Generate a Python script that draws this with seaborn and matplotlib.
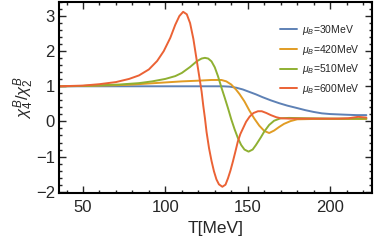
import matplotlib
matplotlib.use("Agg")
import matplotlib.pyplot as plt
import numpy as np
import pandas as pd
import seaborn as sns
from matplotlib.ticker import MultipleLocator

# ── Data ──────────────────────────────────────────────────────────────────────
labels = [r"$\mu_B$=30MeV", r"$\mu_B$=420MeV", r"$\mu_B$=510MeV", r"$\mu_B$=600MeV"]
colors = ["#5E81B5", "#E19C24", "#8FB032", "#EB6235"]

T_30 = [35.5, 60, 80, 100, 120, 135, 139, 143, 147, 151, 155, 159, 164, 169,
        174, 180, 185, 190, 195, 200, 205, 210, 216, 222]
r_30 = [1.0, 1.0, 1.0, 1.0, 1.0, 1.0, 0.99, 0.96, 0.91, 0.84, 0.77, 0.69, 0.60,
        0.52, 0.45, 0.38, 0.32, 0.27, 0.23, 0.21, 0.20, 0.19, 0.18, 0.18]

T_420 = [35.5, 50, 60, 70, 80, 90, 100, 110, 120, 128, 134, 137, 140, 143, 145,
         148, 151, 154, 157, 160, 163, 166, 169, 172, 176, 180, 190, 200, 210, 222]
r_420 = [1.0, 1.01, 1.02, 1.03, 1.05, 1.08, 1.11, 1.14, 1.16, 1.18, 1.18, 1.14,
         1.05, 0.90, 0.78, 0.57, 0.31, 0.08, -0.12, -0.27, -0.33, -0.26, -0.16,
         -0.07, 0.01, 0.06, 0.07, 0.07, 0.07, 0.07]

T_510 = [35.5, 50, 60, 72, 84, 92, 100, 106, 110, 115, 119, 122, 124, 126, 128,
         130, 132, 134, 136, 138, 140, 142, 144, 146, 148, 150.5, 153, 155,
         158, 160, 163, 166, 170, 175, 185, 200, 210, 222]
r_510 = [1.0, 1.01, 1.03, 1.05, 1.09, 1.14, 1.21, 1.29, 1.38, 1.55, 1.71, 1.79,
         1.81, 1.79, 1.71, 1.54, 1.28, 0.97, 0.68, 0.38, 0.06, -0.22, -0.47,
         -0.67, -0.80, -0.86, -0.80, -0.67, -0.45, -0.29, -0.10, 0.02, 0.09,
         0.10, 0.09, 0.08, 0.08, 0.08]

T_600 = [35.5, 50, 60, 70, 78, 84, 90, 95, 99, 103, 106, 108.5, 110.8, 113,
         115, 117, 119, 120.5, 122, 123, 124, 125, 126.5, 128, 129.5, 131,
         132.5, 134.6, 136.5, 138, 139.5, 141, 142.5, 144, 145.5, 147.2, 149,
         151.2, 153.5, 156.2, 158.5, 161.3, 164, 167.3, 170, 175, 190, 205,
         211, 214, 217, 222]
r_600 = [1.0, 1.02, 1.06, 1.12, 1.21, 1.31, 1.48, 1.72, 2.0, 2.38, 2.75, 3.0,
         3.12, 3.05, 2.8, 2.35, 1.75, 1.3, 0.85, 0.45, 0.1, -0.3, -0.76, -1.12,
         -1.42, -1.65, -1.79, -1.86, -1.8, -1.62, -1.4, -1.14, -0.86, -0.57,
         -0.36, -0.19, -0.01, 0.14, 0.24, 0.29, 0.29, 0.24, 0.18, 0.12, 0.09,
         0.08, 0.08, 0.08, 0.09, 0.11, 0.13, 0.11]

series = [(T_30, r_30), (T_420, r_420), (T_510, r_510), (T_600, r_600)]

df = pd.concat(
    [pd.DataFrame({"T": t, "ratio": r, "mu": lab}) for (t, r), lab in zip(series, labels)],
    ignore_index=True,
)

# ── Plot ──────────────────────────────────────────────────────────────────────
sns.set_style("ticks")
plt.rcParams["font.family"] = ["Liberation Sans", "DejaVu Sans"]
plt.rcParams["mathtext.fontset"] = "custom"
plt.rcParams["mathtext.rm"] = "Liberation Sans"
plt.rcParams["mathtext.it"] = "Liberation Sans:italic"

fig = plt.figure(figsize=(3.74, 2.48), dpi=100)
ax = fig.add_axes([0.158, 0.22, 0.837, 0.772])

sns.lineplot(
    data=df, x="T", y="ratio", hue="mu", hue_order=labels,
    palette=colors, estimator=None, sort=False, linewidth=1.4, ax=ax,
)

ax.set_xlim(35.5, 225.5)
ax.set_ylim(-2.05, 3.4)
ax.xaxis.set_major_locator(MultipleLocator(50))
ax.xaxis.set_minor_locator(MultipleLocator(10))
ax.yaxis.set_major_locator(MultipleLocator(1))
ax.yaxis.set_minor_locator(MultipleLocator(0.2))
ax.tick_params(which="both", direction="in", top=True, right=True,
               labelsize=12, width=1.0)
ax.tick_params(axis="x", pad=5)
ax.tick_params(axis="y", pad=3)
ax.tick_params(which="major", length=5)
ax.tick_params(which="minor", length=2.5)
for sp in ax.spines.values():
    sp.set_linewidth(1.5)
    sp.set_color("black")

ax.set_xlabel("T[MeV]", fontsize=12.5, labelpad=4)
ax.set_ylabel(r"$\chi_4^B/\chi_2^B$", fontsize=12, labelpad=0)

ax.legend(loc="upper right", bbox_to_anchor=(0.99, 0.94), frameon=False,
          fontsize=7.5, handlelength=1.6, handletextpad=0.5, labelspacing=0.55)

fig.savefig("out.png", dpi=100)
